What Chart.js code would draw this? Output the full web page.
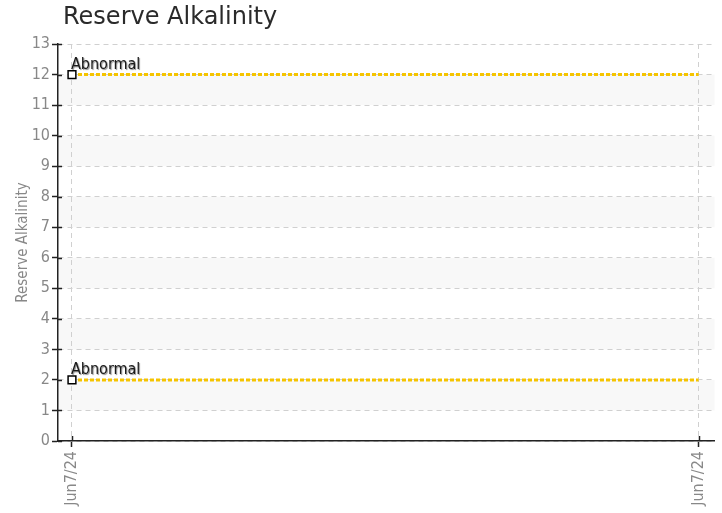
<!DOCTYPE html>
<html>
<head>
<meta charset="utf-8">
<script src="https://cdn.jsdelivr.net/npm/chart.js@4/dist/chart.umd.min.js"></script>
<style>
  body { margin: 0; background: #fff; }
  #wrap { position: relative; width: 722px; height: 513px; }
  #title { position: absolute; left: 63px; top: 2px; font: 24px "DejaVu Sans", sans-serif; color: #2a2a2a; }
</style>
</head>
<body>
<div id="wrap">
  <div id="title">Reserve Alkalinity</div>
  <canvas id="chart" width="722" height="513"></canvas>
</div>
<script>
// data
const dateLabels = ['Jun7/24', 'Jun7/24'];
const xPos = [0, 1];
const upperLimit = [12, 12];
const lowerLimit = [2, 2];
const seriesName = 'Abnormal';
const yTicks = [0, 1, 2, 3, 4, 5, 6, 7, 8, 9, 10, 11, 12, 13];

const narrow = "'Liberation Sans Narrow', 'DejaVu Sans Condensed', 'Roboto Condensed', sans-serif";

function toPoints(vals) {
    return vals.map((v, i) => ({ x: xPos[i], y: v }));
}

// bandes grises alternees
const bandPlugin = {
    id: 'bands',
    beforeDraw(chart) {
        const { ctx, chartArea, scales } = chart;
        ctx.save();
        ctx.fillStyle = '#f8f8f8';
        for (let v = 1; v < 13; v += 2) {
            const y1 = scales.y.getPixelForValue(v + 1);
            const y2 = scales.y.getPixelForValue(v);
            ctx.fillRect(chartArea.left, y1, chartArea.right - chartArea.left, y2 - y1);
        }
        ctx.restore();
    }
};

// petites croix sur les axes + etiquettes
const extrasPlugin = {
    id: 'extras',
    afterDraw(chart) {
        const { ctx, chartArea, scales } = chart;
        ctx.save();
        ctx.strokeStyle = '#222';
        ctx.lineWidth = 1.5;
        yTicks.forEach(v => {
            const y = Math.round(scales.y.getPixelForValue(v)) + 0.5;
            ctx.beginPath();
            ctx.moveTo(chartArea.left, y);
            ctx.lineTo(chartArea.left + 4, y);
            ctx.stroke();
        });
        xPos.forEach(v => {
            const x = Math.round(scales.x.getPixelForValue(v)) + 0.5;
            ctx.beginPath();
            ctx.moveTo(x, chartArea.bottom);
            ctx.lineTo(x, chartArea.bottom - 5);
            ctx.stroke();
        });
        ctx.font = '16px ' + narrow;
        ctx.textBaseline = 'bottom';
        chart.data.datasets.forEach((ds, i) => {
            const pt = chart.getDatasetMeta(i).data[0];
            ctx.shadowColor = 'rgba(0,0,0,0.45)';
            ctx.shadowOffsetX = 1;
            ctx.shadowOffsetY = 1;
            ctx.shadowBlur = 1;
            ctx.fillStyle = '#1a1a1a';
            ctx.fillText(ds.label, pt.x - 1, pt.y - 2);
        });
        ctx.restore();
    }
};

function lineSet(vals) {
    return {
        label: seriesName,
        data: toPoints(vals),
        borderColor: '#f5c400',
        borderWidth: 3,
        borderDash: [4, 2],
        pointStyle: 'rect',
        pointRadius: [5.5, 0],
        pointBackgroundColor: '#fff',
        pointBorderColor: '#000',
        pointBorderWidth: 1.5,
        fill: false,
        tension: 0
    };
}

new Chart(document.getElementById('chart'), {
    type: 'line',
    data: { datasets: [lineSet(upperLimit), lineSet(lowerLimit)] },
    options: {
        responsive: false,
        animation: false,
        layout: { padding: { top: 44, right: 6, left: 0, bottom: 0 } },
        plugins: { legend: { display: false }, tooltip: { enabled: false } },
        scales: {
            x: {
                type: 'linear',
                min: -0.0223,
                max: 1.0255,
                afterBuildTicks: s => { s.ticks = xPos.map(v => ({ value: v })); },
                afterFit: s => { s.height = 72; },
                ticks: {
                    callback: (v, i) => dateLabels[i],
                    minRotation: 90, maxRotation: 90,
                    color: '#888',
                    font: { size: 16, family: narrow },
                    padding: 4
                },
                grid: { color: '#d0d0d0', tickColor: '#222', tickLength: 6, tickWidth: 1.5 },
                border: { color: '#222', width: 1.5, dash: [5, 4] }
            },
            y: {
                min: 0,
                max: 13,
                afterBuildTicks: s => { s.ticks = yTicks.map(v => ({ value: v })); },
                afterFit: s => { s.width = 58; },
                ticks: { color: '#888', font: { size: 16, family: narrow }, padding: 2 },
                title: { display: true, text: 'Reserve Alkalinity', color: '#888', font: { size: 15, family: narrow }, padding: { top: 14, bottom: 0 } },
                grid: { color: '#d0d0d0', tickColor: '#222', tickLength: 6, tickWidth: 1.5 },
                border: { color: '#222', width: 1.5, dash: [5, 4] }
            }
        }
    },
    plugins: [bandPlugin, extrasPlugin]
});
</script>
</body>
</html>
